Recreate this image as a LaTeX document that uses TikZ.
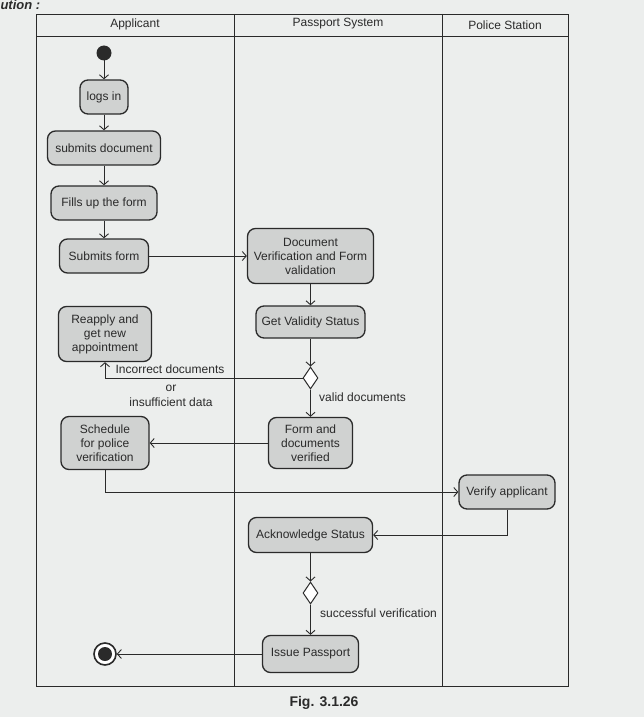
\documentclass[tikz,border=0pt]{standalone}
\usepackage{fontspec}
\setmainfont{Liberation Sans}
\usetikzlibrary{arrows.meta,shapes.geometric}
\definecolor{paper}{HTML}{ECEEED}
\definecolor{actfill}{HTML}{D0D2D1}
\definecolor{ink}{HTML}{2A2A2A}
\begin{document}
\begin{tikzpicture}[x=1pt,y=-1pt,
  font=\fontsize{12}{14}\selectfont,
  act/.style={draw=ink, line width=1.3pt, fill=actfill, rounded corners=8pt,
    align=center, inner sep=2pt, text=ink},
  flow/.style={draw=ink, line width=0.9pt, -{Straight Barb[length=4pt,width=9pt]}},
  lane/.style={draw=ink, line width=0.9pt},
  lbl/.style={text=ink, inner sep=1pt},
  head/.style={text=ink, font=\fontsize{12}{14}\selectfont},
  choice/.style={diamond, draw=ink, line width=1pt, fill=white,
    minimum width=15pt, minimum height=22pt, inner sep=0pt}]

% page
\fill[paper] (0,0) rectangle (644,717);
\useasboundingbox (0,0) rectangle (644,717);
\node[anchor=west, text=ink, font=\fontsize{13}{15}\selectfont\bfseries\itshape] (sol) at (-3,5) {ution :};

% swimlanes
\draw[lane] (36,14) rectangle (568,686);
\draw[lane] (36,36) -- (568,36);
\draw[lane] (234,14) -- (234,686);
\draw[lane] (442,14) -- (442,686);
\node[head] (hA) at (135,24) {Applicant};
\node[head] (hP) at (338,24) {Passport System};
\node[head] (hS) at (505,25) {Police Station};

% Applicant lane
\fill[ink] (104,53) circle (7.5);
\coordinate (start) at (104,60.5);
\node[act, minimum width=48pt, minimum height=34pt] (login) at (104,97) {logs in};
\node[act, minimum width=113pt, minimum height=34pt] (subdoc) at (104,148) {submits document};
\node[act, minimum width=106pt, minimum height=34pt] (fill) at (104,203) {Fills up the form};
\node[act, minimum width=89pt, minimum height=34pt] (subform) at (104,256) {Submits form};
\node[act, minimum width=93pt, minimum height=55pt] (reapply) at (105,334) {Reapply and\\get new\\appointment};
\node[act, minimum width=88pt, minimum height=53pt] (sched) at (105,443) {Schedule\\for police\\verification};
\node[circle, draw=ink, line width=1.6pt, fill=white, minimum size=22pt, inner sep=0pt] (final) at (105,654) {};
\fill[ink] (final.center) circle (7);

% Passport System lane
\node[act, minimum width=126pt, minimum height=55pt] (docver) at (310.5,256)
  {Document\\Verification and Form\\validation};
\node[act, minimum width=109pt, minimum height=32pt] (valid) at (310.5,322) {Get Validity Status};
\node[choice] (d1) at (310.5,378) {};
\node[act, minimum width=84pt, minimum height=51pt] (formver) at (310.5,443)
  {Form and\\documents\\verified};
\node[act, minimum width=124pt, minimum height=35pt] (ack) at (310.5,535) {Acknowledge Status};
\node[choice] (d2) at (310.5,593) {};
\node[act, minimum width=96pt, minimum height=37pt] (issue) at (310.5,654) {Issue Passport};

% Police Station lane
\node[act, minimum width=96pt, minimum height=34pt] (verify) at (507,492) {Verify applicant};

% flows
\draw[flow] (start) -- (login);
\draw[flow] (login) -- (subdoc);
\draw[flow] (subdoc) -- (fill);
\draw[flow] (fill) -- (subform);
\draw[flow] (subform) -- (docver);
\draw[flow] (docver) -- (valid);
\draw[flow] (valid) -- (d1);
\draw[flow] (d1.west) -| (reapply.south);
\draw[flow] (d1) -- (formver);
\draw[flow] (formver) -- (sched);
\draw[flow] (sched.south) |- (verify.west);
\draw[flow] (verify.south) |- (ack.east);
\draw[flow] (ack) -- (d2);
\draw[flow] (d2) -- (issue);
\draw[flow] (issue) -- (final);

% guard labels
\node[lbl] (g1) at (170,369) {Incorrect documents};
\node[lbl] (g2) at (171,388) {or};
\node[lbl] (g3) at (171,402) {insufficient data};
\node[lbl, anchor=west] (g4) at (318,397) {valid documents};
\node[lbl, anchor=west] (g5) at (319,613) {successful verification};

% caption
\node[text=ink, font=\fontsize{14}{16}\selectfont\bfseries] (cap) at (324,703) {Fig. 3.1.26};
\end{tikzpicture}
\end{document}
